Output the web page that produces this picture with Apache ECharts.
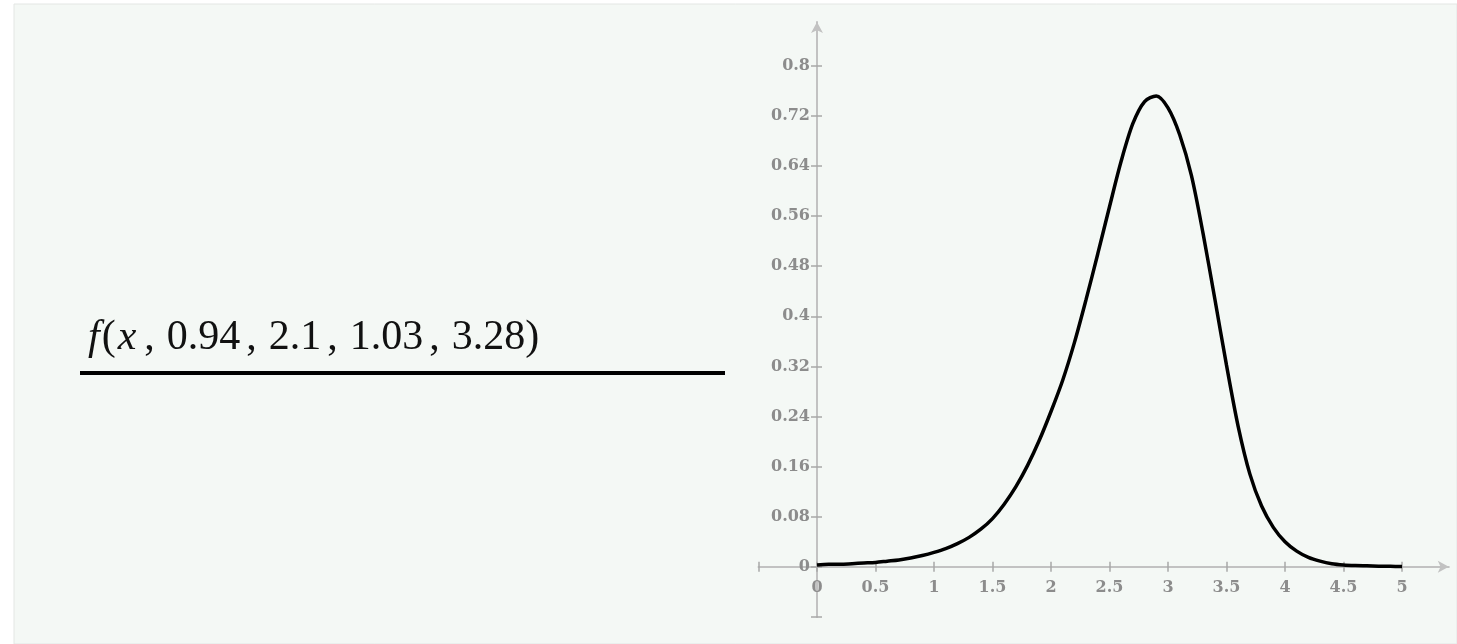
<!DOCTYPE html>
<html>
<head>
<meta charset="utf-8">
<script src="https://cdn.jsdelivr.net/npm/echarts@6/dist/echarts.min.js"></script>
<style>
html,body{margin:0;padding:0;background:#ffffff;}
#chart{width:1457px;height:644px;}
</style>
</head>
<body>
<div id="chart"></div>
<script>
// ---- data ----
const xValues = [0.0,0.1,0.2,0.3,0.4,0.5,0.6,0.7,0.8,0.9,1.0,1.1,1.2,1.3,1.4,1.5,1.6,1.7,1.8,1.9,2.0,2.1,2.2,2.3,2.4,2.5,2.6,2.7,2.8,2.9,3.0,3.1,3.2,3.3,3.4,3.5,3.6,3.7,3.8,3.9,4.0,4.1,4.2,4.3,4.4,4.5,4.6,4.7,4.8,4.9,5.0];
const fValues = [0.003,0.004,0.004,0.005,0.006,0.007,0.009,0.011,0.014,0.018,0.023,0.029,0.037,0.047,0.060,0.077,0.100,0.128,0.162,0.202,0.248,0.298,0.358,0.427,0.500,0.575,0.648,0.708,0.743,0.752,0.733,0.690,0.625,0.532,0.428,0.322,0.224,0.148,0.097,0.063,0.040,0.025,0.015,0.009,0.005,0.003,0.002,0.0015,0.001,0.0008,0.0005];

const xTickValues = [-0.5,0,0.5,1,1.5,2,2.5,3,3.5,4,4.5,5];
const xLabelValues = [0,0.5,1,1.5,2,2.5,3,3.5,4,4.5,5];
const xTickLabels = ['0','0.5','1','1.5','2','2.5','3','3.5','4','4.5','5'];

const yTickValues = [-0.08,0,0.08,0.16,0.24,0.32,0.4,0.48,0.56,0.64,0.72,0.8];
const yLabelValues = [0,0.08,0.16,0.24,0.32,0.4,0.48,0.56,0.64,0.72,0.8];
const yTickLabels = ['0','0.08','0.16','0.24','0.32','0.4','0.48','0.56','0.64','0.72','0.8'];

const exprLabel = ['f','(','x',',','0.94',',','2.1',',','1.03',',','3.28',')'];

// ---- chart ----
const chart = echarts.init(document.getElementById('chart'), null, {renderer:'canvas'});
const axisColor = '#c2c2c2';
const tickColor = '#a8a8a8';
const labelColor = '#8c8c8c';
const labelFont = {fontFamily:'DejaVu Serif', fontWeight:'bold', fontSize:16, color:labelColor};

function labelFor(values, labels){
  return function(v){
    for (let i=0;i<values.length;i++){ if (Math.abs(values[i]-v)<1e-6) return labels[i]; }
    return '';
  };
}

const seriesData = xValues.map((x,i)=>[x,fValues[i]]);

const richParts = exprLabel.map(p=>{
  if (p==='f' || p==='x') return '{i|'+p+'}';
  if (p===',') return '{c|,}';
  return '{n|'+p+'}';
}).join('');

const X_MIN=-0.5, X_MAX=5.4, Y_MIN=-0.08, Y_MAX=0.87;

const option = {
  animation:false,
  backgroundColor:'#ffffff',
  graphic:[
    {type:'rect', z:-10, shape:{x:14,y:4,width:1457-14,height:644-4}, style:{fill:'#f4f8f5', stroke:'#e3e6e4', lineWidth:1}},
    {type:'text', left:88, top:317, z:10, style:{
      text:richParts,
      rich:{
        i:{fontFamily:'Liberation Serif', fontStyle:'italic', fontSize:42, fill:'#111', padding:[0,2,0,2]},
        n:{fontFamily:'Liberation Serif', fontSize:42, fill:'#111'},
        c:{fontFamily:'Liberation Serif', fontSize:42, fill:'#111', padding:[0,12,0,6]}
      }
    }},
    {type:'line', z:10, shape:{x1:80,y1:373,x2:725,y2:373}, style:{stroke:'#000', lineWidth:4}}
  ],
  grid:{left:758.5, top:22, width:690.3, height:594.9, containLabel:false},
  xAxis:[
    {type:'value', min:X_MIN, max:X_MAX, position:'bottom',
     axisLine:{show:true, onZero:true, onZeroAxisIndex:0, lineStyle:{color:axisColor, width:2}, symbol:['none','arrow'], symbolSize:[9,11]},
     axisTick:{show:true, inside:false, length:5, customValues:xTickValues, lineStyle:{color:tickColor, width:1.5}},
     axisLabel:{show:true, margin:-37, customValues:xLabelValues, formatter:labelFor(xLabelValues,xTickLabels), ...labelFont},
     splitLine:{show:false}},
    {type:'value', min:X_MIN, max:X_MAX, position:'bottom',
     axisLine:{show:true, onZero:true, onZeroAxisIndex:0, lineStyle:{color:'rgba(0,0,0,0)', width:0}},
     axisTick:{show:true, inside:true, length:5, customValues:xTickValues, lineStyle:{color:tickColor, width:1.5}},
     axisLabel:{show:false},
     splitLine:{show:false}}
  ],
  yAxis:[
    {type:'value', min:Y_MIN, max:Y_MAX, position:'left',
     axisLine:{show:true, onZero:true, onZeroAxisIndex:0, lineStyle:{color:axisColor, width:2}, symbol:['none','arrow'], symbolSize:[9,11]},
     axisTick:{show:true, inside:false, length:6, customValues:yTickValues, lineStyle:{color:tickColor, width:1.5}},
     axisLabel:{show:true, margin:-51.5, customValues:yLabelValues, formatter:labelFor(yLabelValues,yTickLabels), ...labelFont},
     splitLine:{show:false}},
    {type:'value', min:Y_MIN, max:Y_MAX, position:'left',
     axisLine:{show:true, onZero:true, onZeroAxisIndex:0, lineStyle:{color:'rgba(0,0,0,0)', width:0}},
     axisTick:{show:true, inside:true, length:5, customValues:yTickValues, lineStyle:{color:tickColor, width:1.5}},
     axisLabel:{show:false},
     splitLine:{show:false}}
  ],
  series:[
    {type:'line', xAxisIndex:0, yAxisIndex:0, data:seriesData, smooth:0.3, showSymbol:false,
     lineStyle:{color:'#000000', width:3.5}, z:5}
  ]
};
chart.setOption(option);
</script>
</body>
</html>
